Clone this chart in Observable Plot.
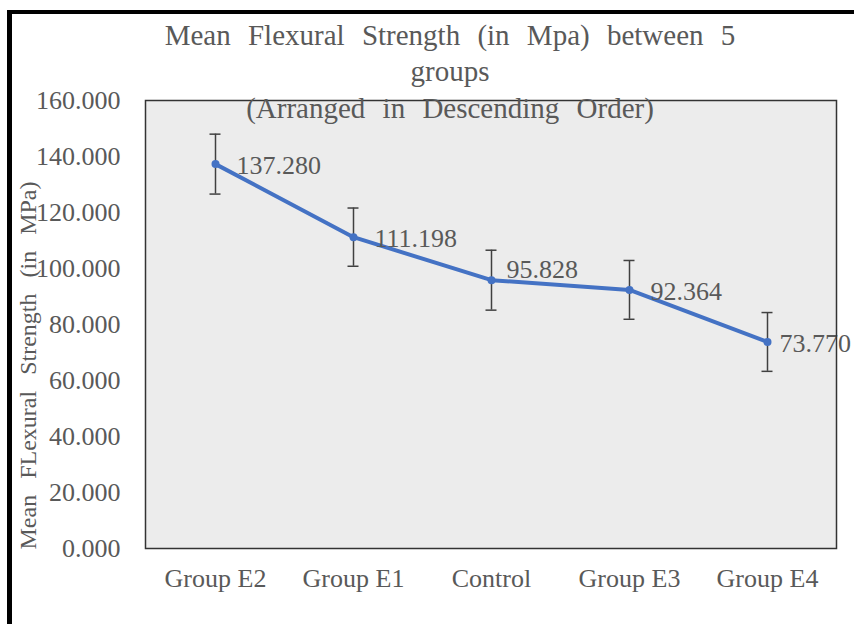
<!DOCTYPE html>
<html>
<head>
<meta charset="utf-8">
<script src="https://cdn.jsdelivr.net/npm/d3@7"></script>
<script src="https://cdn.jsdelivr.net/npm/@observablehq/plot@0.6"></script>
<style>
  html, body { margin: 0; padding: 0; background: #fff; overflow: hidden; }
  #wrap { position: relative; width: 854px; height: 624px; overflow: hidden; background: #fff; }
  #border { position: absolute; left: 7px; top: 10px; width: 900px; height: 700px;
            border-left: 5px solid #000; border-top: 4px solid #000; }
  #chart { position: absolute; left: 0; top: 0; }
</style>
</head>
<body>
<div id="wrap"><div id="border"></div><div id="chart"></div></div>
<script>
const groups = ["Group E2", "Group E1", "Control", "Group E3", "Group E4"];
const means = [137.280, 111.198, 95.828, 92.364, 73.770];
const errors = [10.7, 10.4, 10.7, 10.5, 10.5];
const yTicks = [0, 20, 40, 60, 80, 100, 120, 140, 160];
const titleLines = ["Mean Flexural Strength (in Mpa) between 5", "groups", "(Arranged in Descending Order)"];
const yLabel = "Mean FLexural Strength (in MPa)";

const data = groups.map((g, i) => ({group: g, mean: means[i], err: errors[i]}));
const fmt = d3.format(".3f");
const grey = "#595959";
const font = "'Liberation Serif', 'Times New Roman', serif";

const chart = Plot.plot({
  width: 854,
  height: 624,
  marginLeft: 145,
  marginRight: 18,
  marginTop: 100,
  marginBottom: 76,
  style: {fontFamily: font, background: "transparent", color: grey},
  x: {type: "band", domain: groups, padding: 0, label: null},
  y: {domain: [0, 160], label: null},
  marks: [
    Plot.frame({fill: "#ececec", stroke: null}),
    Plot.axisY({ticks: yTicks, tickFormat: fmt, tickSize: 0, tickPadding: 25, fontSize: 26, fill: grey, label: null}),
    Plot.axisX({tickSize: 0, tickPadding: 20, fontSize: 26, fill: grey, label: null}),
    Plot.ruleX(data, {x: "group", y1: d => d.mean - d.err, y2: d => d.mean + d.err, stroke: "#404040", strokeWidth: 1.5}),
    Plot.tickY(data, {x: "group", y: d => d.mean - d.err, insetLeft: 63.5, insetRight: 63.5, stroke: "#404040", strokeWidth: 1.5}),
    Plot.tickY(data, {x: "group", y: d => d.mean + d.err, insetLeft: 63.5, insetRight: 63.5, stroke: "#404040", strokeWidth: 1.5}),
    Plot.line(data, {x: "group", y: "mean", stroke: "#4472C4", strokeWidth: 4, strokeLinejoin: "round", strokeLinecap: "round"}),
    Plot.dot(data, {x: "group", y: "mean", r: 4, fill: "#4472C4", stroke: null}),
    Plot.text(data, {filter: d => d.group !== "Control" && d.group !== "Group E4", x: "group", y: "mean", text: d => fmt(d.mean), textAnchor: "start", dx: 21, dy: 2, fontSize: 26, fill: grey}),
    Plot.text(data, {filter: d => d.group === "Control", x: "group", y: "mean", text: d => fmt(d.mean), textAnchor: "start", dx: 15, dy: -11, fontSize: 26, fill: grey}),
    Plot.text(data, {filter: d => d.group === "Group E4", x: "group", y: "mean", text: d => fmt(d.mean), textAnchor: "start", dx: 12, dy: 2, fontSize: 26, fill: grey}),
    Plot.frame({stroke: "#333", strokeWidth: 1.5, fill: null}),
    Plot.text([titleLines.join("\n")], {frameAnchor: "top", lineAnchor: "middle", lineHeight: 1.26, dx: -41, dy: -31, fontSize: 29, fill: grey}),
    Plot.text([yLabel], {frameAnchor: "left", textAnchor: "middle", rotate: -90, dx: -117, dy: 41, fontSize: 24, fill: grey})
  ]
});

d3.select(chart).selectAll("text").filter(function() {
  const t = this.textContent;
  return t.startsWith("Mean");
}).style("word-spacing", "10px");

document.getElementById("chart").appendChild(chart);
</script>
</body>
</html>
